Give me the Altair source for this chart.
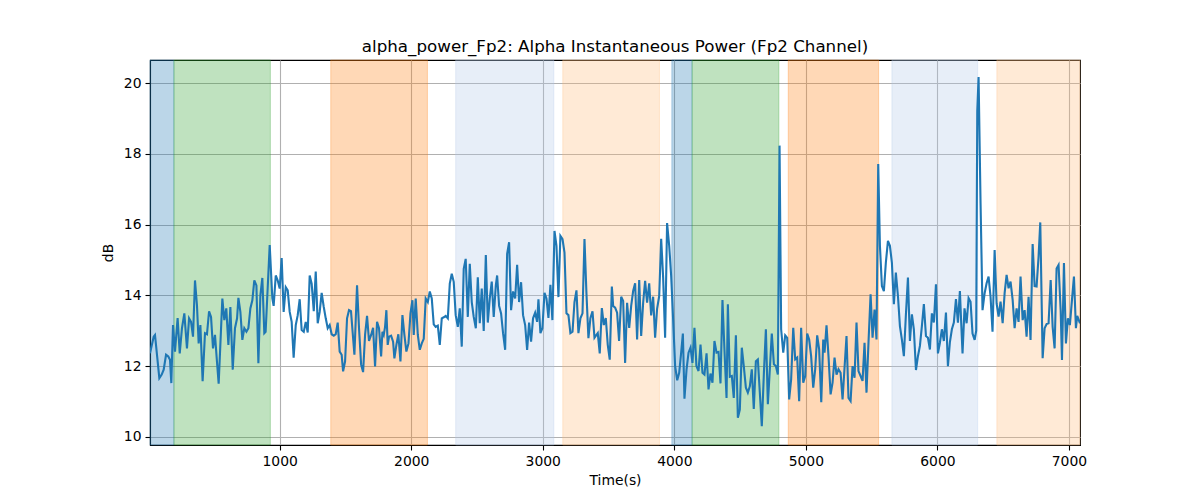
import altair as alt
import pandas as pd

# ---- line series (time in s, power in dB) ----
times = [14, 42, 52, 85, 103, 118, 136, 153, 166, 176, 189, 204, 224, 240, 257, 275, 295, 311, 326, 341,
         356, 371, 384, 397, 414, 432, 447, 463, 478, 493, 508, 523, 536, 564, 579, 594, 610, 625, 643, 660,
         676, 686, 701, 716, 731, 747, 762, 777, 792, 807, 823, 838, 853, 868, 883,
         893, 924, 944, 954, 970, 985, 1000, 1015, 1030, 1046, 1061, 1076, 1091, 1106, 1122, 1137, 1152, 1167,
         1183, 1198, 1213, 1228, 1243, 1259, 1274, 1289, 1304, 1319, 1335, 1350, 1365, 1380, 1395, 1411, 1426,
         1441, 1456, 1471, 1482, 1497, 1512, 1527, 1542, 1568, 1588, 1603, 1619, 1634, 1649, 1664, 1679, 1695,
         1710, 1725, 1740, 1755,
         1771, 1781, 1791, 1801, 1811, 1821, 1831, 1847, 1862, 1872, 1887, 1902, 1918, 1933, 1948, 1963, 1979,
         1994, 2009, 2019, 2034, 2050, 2065, 2080, 2095, 2110, 2126, 2141, 2156, 2171, 2186, 2202, 2217, 2232,
         2247, 2262, 2278, 2293, 2308, 2323, 2338, 2354, 2369, 2384, 2399, 2414, 2430, 2445, 2460, 2475, 2491,
         2506, 2521, 2536, 2551, 2567, 2582, 2597, 2612, 2627,
         2643, 2653, 2668, 2683, 2698, 2714, 2729, 2744, 2759, 2774, 2790, 2805, 2820, 2835, 2850, 2866, 2881,
         2896, 2911, 2926, 2942, 2957, 2967, 2982, 2997, 3013, 3028, 3043, 3058, 3073, 3089, 3104, 3119, 3134,
         3150, 3165, 3180, 3195, 3210, 3226, 3241, 3256, 3271, 3286, 3302, 3317, 3332, 3347, 3362, 3378, 3393,
         3408, 3418, 3433, 3449, 3464, 3479, 3494, 3509,
         3525, 3535, 3550, 3565, 3580, 3596, 3611, 3626, 3641, 3657, 3672, 3687, 3702, 3717, 3733, 3748, 3763,
         3778, 3793, 3809, 3824, 3839, 3854, 3869, 3885, 3900, 3915, 3930, 3945, 3961, 3976, 3991, 4006, 4022,
         4037, 4052, 4065, 4077, 4093, 4108, 4123, 4138, 4153, 4168, 4184, 4199, 4214, 4229, 4245, 4260, 4275,
         4290, 4305, 4321, 4336, 4351, 4366, 4381, 4397,
         4407, 4422, 4437, 4452, 4468, 4483, 4498, 4513, 4528, 4544, 4559, 4574, 4589, 4604, 4620, 4635, 4650,
         4665, 4681, 4696, 4711, 4726, 4741, 4757, 4772, 4787, 4800, 4812, 4828, 4843, 4858, 4873, 4888, 4904,
         4919, 4934, 4949, 4964, 4980, 4995, 5010, 5025, 5040, 5056, 5071, 5086, 5101, 5117, 5132, 5142, 5157,
         5172, 5188, 5203, 5218, 5233, 5248, 5264, 5279,
         5309, 5324, 5340, 5355, 5370, 5385, 5400, 5416, 5431, 5446, 5461, 5476, 5492, 5507, 5522, 5537, 5550,
         5563, 5578, 5593, 5608, 5624, 5639, 5654, 5669, 5684, 5700, 5715, 5730, 5745, 5760, 5776, 5791, 5806,
         5821, 5837, 5852, 5867, 5882, 5897, 5913, 5928, 5943, 5958, 5973, 5989, 6004, 6019, 6034, 6049, 6065,
         6080, 6095, 6110, 6125, 6141, 6156, 6171,
         6181, 6191, 6206, 6222, 6237, 6252, 6267, 6283, 6295, 6303, 6313, 6328, 6343, 6359, 6374, 6389, 6404,
         6419, 6435, 6450, 6465, 6480, 6496, 6511, 6526, 6541, 6556, 6572, 6587, 6602, 6617, 6632, 6648, 6663,
         6678, 6693, 6708, 6724, 6739, 6754, 6769, 6782, 6800, 6815, 6830, 6845, 6861, 6876, 6891, 6906, 6921,
         6937, 6947, 6962, 6977, 6992, 7007, 7023, 7038, 7053, 7063, 7084]

power = [12.36, 12.83, 12.88, 11.66, 11.76, 11.90, 12.32, 12.27, 12.18, 11.52, 13.16, 12.41, 13.36, 12.36, 13.07,
         13.49, 12.50, 13.35, 13.25, 12.83, 14.42, 13.72, 12.64, 13.16, 11.57, 12.93, 12.90, 13.55, 13.39, 12.50,
         12.88, 12.13, 11.50, 13.91, 13.30, 13.63, 12.60, 13.67, 11.90, 13.07, 13.35, 13.93, 13.53, 12.74, 13.07,
         12.97, 13.07, 13.63, 13.86, 14.42, 14.28, 12.08, 14.00, 14.49, 12.93,
         12.97, 15.42, 13.91, 13.70, 14.56, 14.42, 14.19, 15.05, 13.53, 14.23, 14.14, 13.53, 13.25, 12.24, 13.16,
         13.44, 13.89, 13.02, 12.97, 13.25, 12.95, 14.56, 14.33, 13.55, 14.67, 13.21, 13.53, 14.07, 13.67, 13.35,
         13.07, 13.16, 12.90, 12.86, 12.90, 13.23, 12.41, 12.32, 11.85, 12.13, 13.35, 13.58, 13.55, 12.32, 14.28,
         13.07, 12.04, 11.83, 12.88, 13.42, 12.71, 12.88, 13.08, 11.99, 13.25, 13.07,
         12.27, 12.97, 12.88, 13.11, 13.58, 12.60, 12.83, 12.86, 12.69, 12.22, 12.60, 12.90, 12.13, 13.44, 12.88,
         12.41, 12.64, 13.49, 13.86, 12.88, 13.91, 12.88, 12.46, 12.64, 12.77, 13.91, 13.81, 14.11, 13.91, 13.18,
         13.11, 13.14, 12.60, 13.35, 13.38, 13.42, 13.35, 14.33, 14.61, 14.38, 13.44, 13.11, 13.63, 12.55, 14.75,
         15.03, 13.39, 14.89, 13.81, 13.39, 13.07, 14.51, 13.21, 14.19, 12.99, 15.14, 13.23, 13.91, 14.39, 13.39,
         14.28, 14.56, 13.70, 13.49, 12.93, 12.46, 15.17, 15.50, 13.58, 14.11, 13.91, 14.86, 13.81, 14.37, 13.44,
         13.16, 12.46, 13.23, 12.69, 13.35, 13.51, 13.25, 13.89, 12.93, 13.07, 14.07, 13.91, 13.36, 14.30, 13.30,
         15.82, 15.40, 13.95, 15.68, 15.59, 15.21, 13.49, 13.44, 12.93, 12.97, 13.81, 14.14, 12.93, 13.35, 13.49,
         15.59, 14.05, 12.79, 13.35, 13.55, 12.80, 12.88, 12.93, 12.36, 13.64, 13.16, 13.36, 12.60, 12.18,
         14.25, 13.70, 13.65, 13.51, 12.71, 13.96, 13.84, 12.09, 13.79, 13.08, 13.70, 14.12, 14.34, 12.75, 14.43,
         12.85, 13.79, 14.41, 13.79, 14.34, 13.43, 13.96, 12.80, 13.62, 13.98, 15.60, 14.50, 12.80, 16.04, 15.40,
         14.55, 13.32, 12.00, 11.60, 11.81, 12.38, 12.92, 11.08, 11.91, 12.38, 12.52, 12.09, 13.08, 12.00, 11.86,
         12.61, 11.81, 11.76, 12.36, 11.34, 11.79, 11.53, 12.71, 12.38, 12.40, 11.51, 13.87, 12.47, 11.10,
         13.75, 11.70, 11.72, 11.10, 12.87, 10.54, 10.77, 12.52, 12.00, 11.39, 11.25, 11.43, 11.91, 10.79, 12.14,
         12.19, 11.25, 10.30, 11.81, 13.04, 10.92, 11.91, 12.92, 12.05, 12.00, 11.76, 18.23, 13.04, 12.38, 12.87,
         12.80, 11.06, 11.62, 13.08, 12.19, 12.24, 11.01, 13.08, 11.53, 11.72, 12.92, 12.75, 12.28, 11.39, 11.91,
         12.87, 12.47, 10.98, 12.75, 12.38, 13.15, 12.28, 11.20, 11.53, 12.24, 11.76, 11.91, 11.81, 11.06,
         12.85, 11.10, 11.01, 12.00, 11.67, 13.23, 11.86, 11.72, 11.58, 12.66, 11.25, 12.66, 14.03, 12.80, 13.60,
         12.75, 17.71, 15.40, 14.26, 14.12, 14.92, 15.54, 15.40, 14.92, 13.75, 14.64, 13.98, 13.13, 12.75, 12.28,
         13.42, 14.50, 12.71, 13.46, 13.04, 11.89, 12.28, 12.57, 13.13, 13.75, 12.85, 12.80, 12.47, 13.49, 13.23,
         14.31, 12.36, 12.66, 13.04, 12.71, 13.51, 12.00, 12.68, 13.04, 13.23, 13.89, 13.23, 14.12,
         13.21, 12.36, 13.63, 13.21, 13.92, 13.82, 12.92, 12.74, 13.00, 19.20, 20.17, 16.60, 13.58, 14.06, 14.34,
         14.53, 13.96, 12.97, 15.28, 13.77, 13.40, 13.82, 13.21, 14.06, 14.58, 14.20, 14.39, 13.87, 13.07, 13.63,
         13.25, 14.53, 13.30, 13.58, 12.83, 13.96, 12.74, 15.45, 14.26, 14.25, 15.09, 16.06, 12.22, 13.07, 13.19,
         13.21, 14.43, 13.11, 12.50, 14.76, 14.86, 13.58, 12.17, 14.91, 12.64, 13.35, 13.16, 13.87, 14.53, 13.07,
         13.42, 13.21]

# ---- shaded segments ----
band_start = [14, 196, 1388, 2338, 3152, 3981, 4135, 4866, 5654, 6452]
band_end = [196, 929, 2123, 3084, 3887, 4135, 4795, 5553, 6306, 7084]
band_kind = ["blue", "green", "orange", "lightblue", "lightorange",
             "blue", "green", "orange", "lightblue", "lightorange"]
kind_names = ["blue", "green", "orange", "lightblue", "lightorange"]
kind_colors = ["#1f77b4", "#2ca02c", "#ff7f0e", "#aec7e8", "#ffbb78"]

x_ticks = [1000, 2000, 3000, 4000, 5000, 6000, 7000]
y_ticks = [10, 12, 14, 16, 18, 20]

line_df = pd.DataFrame({"t": times, "v": power})
band_df = pd.DataFrame({"start": band_start, "end": band_end, "kind": band_kind})

FONT = "DejaVu Sans"
xscale = alt.Scale(domain=[14, 7084], nice=False, zero=False)
yscale = alt.Scale(domain=[9.77, 20.65], nice=False, zero=False)

bands = alt.Chart(band_df).mark_rect(fillOpacity=0.3, strokeOpacity=0.3, strokeWidth=1).encode(
    x=alt.X("start:Q", scale=xscale),
    x2="end:Q",
    fill=alt.Fill("kind:N", scale=alt.Scale(domain=kind_names, range=kind_colors), legend=None),
    stroke=alt.Stroke("kind:N", scale=alt.Scale(domain=kind_names, range=kind_colors), legend=None),
)

line = alt.Chart(line_df).mark_line(color="#1f77b4", strokeWidth=2.1, clip=True).encode(
    x=alt.X("t:Q", scale=xscale,
            axis=alt.Axis(title="Time(s)", values=x_ticks, format="d", grid=True)),
    y=alt.Y("v:Q", scale=yscale,
            axis=alt.Axis(title="dB", values=y_ticks, format="d", grid=True)),
)

chart = alt.layer(bands, line).properties(
    width=930,
    height=385,
    title=alt.TitleParams(
        "alpha_power_Fp2: Alpha Instantaneous Power (Fp2 Channel)",
        font=FONT, fontSize=16.7, fontWeight="normal", color="black",
        anchor="middle", offset=4,
    ),
    autosize=alt.AutoSizeParams(type="none"),
    padding={"left": 142, "top": 52, "right": 100, "bottom": 60},
).configure_view(
    stroke="black", strokeWidth=1.1
).configure_axis(
    labelFont=FONT, labelFontSize=13.9, labelColor="black",
    titleFont=FONT, titleFontSize=13.9, titleFontWeight="normal", titleColor="black",
    gridColor="#b0b0b0", gridWidth=1.1, gridOpacity=1,
    domainColor="black", domainWidth=1.1,
    tickColor="black", tickSize=5, tickWidth=1.1,
    labelPadding=4,
).configure_axisX(
    titlePadding=6,
).configure_axisY(
    titlePadding=8,
)

chart.save("out.html", embed_options={"renderer": "svg", "actions": False})
